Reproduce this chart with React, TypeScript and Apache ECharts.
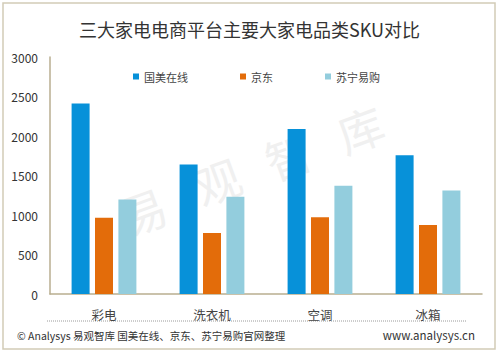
import React, { useEffect, useRef } from "react";
import * as echarts from "echarts";

const categories = ["彩电", "洗衣机", "空调", "冰箱"];
const gome = [2410, 1640, 2090, 1755];
const jd = [965, 772, 972, 874];
const suning = [1197, 1230, 1370, 1311];
const yTicks = { min: 0, max: 3000, interval: 500 };
const FONT = "'Noto Sans CJK SC', 'Noto Sans', sans-serif";

export default function App() {
  const ref = useRef<HTMLDivElement>(null);
  useEffect(() => {
    if (!ref.current) return;
    const chart = echarts.init(ref.current, null, { renderer: "svg" });
    const axisColor = "#b9ae90";
    const wm = ["易", "观", "智", "库"];
    const wmPos = [
      [143, 210],
      [217, 180],
      [288, 155],
      [360, 128],
    ];
    chart.setOption({
      animation: false,
      backgroundColor: "#fff",
      textStyle: { fontFamily: FONT },
      title: {
        text: "三大家电电商平台主要大家电品类SKU对比",
        left: "center",
        top: 15,
        textStyle: { fontSize: 18, fontWeight: "normal", color: "#333", fontFamily: FONT },
      },
      legend: {
        left: 128,
        top: 66,
        itemWidth: 6,
        itemHeight: 6,
        itemGap: 52,
        icon: "rect",
        textStyle: { fontSize: 11, color: "#444", fontFamily: FONT },
      },
      grid: { left: 50, right: 17, top: 57, bottom: 60 },
      xAxis: {
        type: "category",
        data: categories,
        axisLine: { lineStyle: { color: axisColor, width: 1.5 } },
        axisTick: { show: false },
        axisLabel: { margin: 14, fontSize: 12.5, color: "#444", fontFamily: FONT },
      },
      yAxis: {
        type: "value",
        min: yTicks.min,
        max: yTicks.max,
        interval: yTicks.interval,
        axisLine: { show: true, lineStyle: { color: axisColor, width: 1.5 } },
        axisTick: { show: false },
        splitLine: { show: false },
        axisLabel: {
          margin: 12,
          fontSize: 12,
          color: "#333",
          fontFamily: FONT,
          formatter: (v: number) => String(v),
        },
      },
      series: [
        { name: "国美在线", type: "bar", data: gome, barWidth: 18, barGap: "30%", itemStyle: { color: "#0791d9" }, z: 5 },
        { name: "京东", type: "bar", data: jd, barWidth: 18, barGap: "30%", itemStyle: { color: "#e36c0a" }, z: 5 },
        { name: "苏宁易购", type: "bar", data: suning, barWidth: 18, barGap: "30%", itemStyle: { color: "#93cddd" }, z: 5 },
      ],
      graphic: [
        {
          type: "rect",
          shape: { x: 3, y: 3, width: 492, height: 346 },
          style: { fill: "none", stroke: "#d2cbb7", lineWidth: 1.5 },
          silent: true,
        },
        ...wm.map((c, i) => ({
          type: "text",
          x: wmPos[i][0],
          y: wmPos[i][1],
          rotation: 0.35,
          z: 0,
          zlevel: 0,
          silent: true,
          style: {
            text: c,
            fontSize: 46,
            fontFamily: FONT,
            fill: "#f0f0f0",
            align: "center",
            verticalAlign: "middle",
          },
        })),
        {
          type: "line",
          shape: { x1: 47, y1: 321, x2: 467, y2: 321 },
          style: { stroke: "#9a9a9a", lineWidth: 1, lineDash: [1, 1] },
          silent: true,
        },
        {
          type: "text",
          x: 17,
          y: 335,
          style: {
            text: "© Analysys 易观智库 国美在线、京东、苏宁易购官网整理",
            fontSize: 10.5,
            fontFamily: FONT,
            fill: "#333",
            verticalAlign: "middle",
          },
        },
        {
          type: "text",
          x: 475,
          y: 335,
          style: {
            text: "www.analysys.cn",
            fontSize: 11.5,
            fontFamily: FONT,
            fill: "#333",
            align: "right",
            verticalAlign: "middle",
          },
        },
      ],
    });
    return () => chart.dispose();
  }, []);
  return (
    <div
      ref={ref}
      style={{ position: "fixed", left: 0, top: 0, width: 499, height: 354 }}
    />
  );
}
